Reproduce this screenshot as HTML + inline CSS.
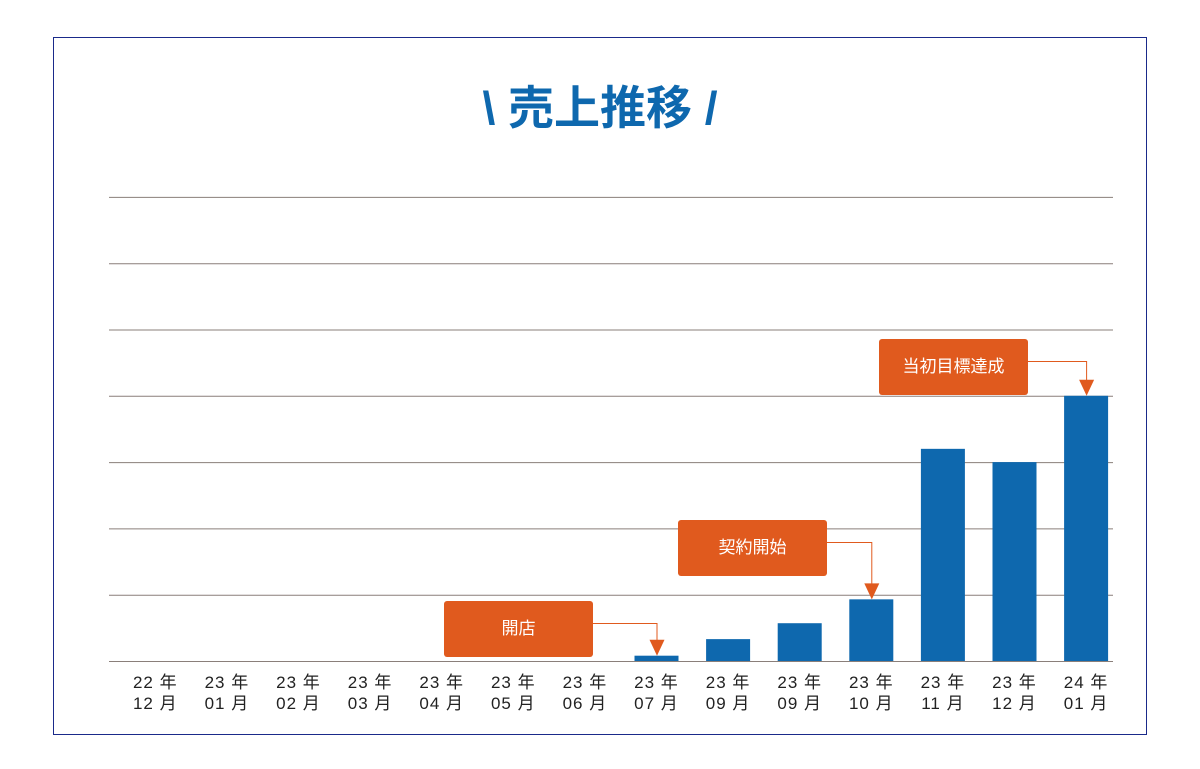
<!DOCTYPE html>
<html><head><meta charset="utf-8"><style>
body{margin:0;background:#fff;width:1200px;height:764px;overflow:hidden}
svg text{font-family:"Liberation Sans","Noto Sans CJK JP",sans-serif}
</style></head><body>
<svg width="1200" height="764">
<rect x="53.5" y="37.5" width="1093" height="697" fill="#fff" stroke="#1a2a8a" stroke-width="1"/>
<text x="600" y="124" text-anchor="middle" font-size="46" font-weight="bold" fill="#0e68ae">\ 売上推移 /</text>
<g id="grid"></g><g id="bars"></g><g id="labels"></g><g id="callouts"></g>
</svg>
<script>
const categories=[["22 年","12 月"],["23 年","01 月"],["23 年","02 月"],["23 年","03 月"],["23 年","04 月"],["23 年","05 月"],["23 年","06 月"],["23 年","07 月"],["23 年","09 月"],["23 年","09 月"],["23 年","10 月"],["23 年","11 月"],["23 年","12 月"],["24 年","01 月"]];
const values=[0,0,0,0,0,0,0,0.08,0.33,0.57,0.93,3.2,3.0,4.0];
const gridTicks=[0,1,2,3,4,5,6,7];
const callouts=[{idx:7,text:"開店"},{idx:10,text:"契約開始"},{idx:13,text:"当初目標達成"}];
const calloutBoxes=[[444,601],[678,520],[879,339]];
const NS="http://www.w3.org/2000/svg";
const x0=119.5,step=71.6,base=661,unit=66.3,bw=44;
const xc=i=>x0+step*i+step/2, y=v=>base-v*unit;
function mk(t,a,p){const e=document.createElementNS(NS,t);for(const k in a)e.setAttribute(k,a[k]);p.appendChild(e);return e;}
const G=document.getElementById('grid'),B=document.getElementById('bars'),L=document.getElementById('labels'),C=document.getElementById('callouts');
gridTicks.forEach(t=>{const l=mk('line',{x1:109,x2:1113,y1:y(t)+0.5,y2:y(t)+0.5,stroke:'#8a7f7a','stroke-width':1},G);

});
values.forEach((v,i)=>{if(v>0){const r=mk('rect',{x:xc(i)-bw/2,y:y(v),width:bw,height:v*unit,fill:'#0e68ae'},B);

}
categories[i].forEach((s,j)=>{const t=mk('text',{x:xc(i),y:688+j*21,'text-anchor':'middle','font-size':17,fill:'#222','letter-spacing':'1'},L);t.textContent=s;

});});
callouts.forEach((c,k)=>{const [bx,by]=calloutBoxes[k];const g=mk('g',{},C);


mk('rect',{x:bx,y:by,width:149,height:56,rx:3,fill:'#e05a1e'},g);
const t=mk('text',{x:bx+74.5,y:by+33,'text-anchor':'middle','font-size':17,fill:'#fff'},g);t.textContent=c.text;
const ax=xc(c.idx),ly=by+22,ty=y(values[c.idx]);
mk('polyline',{points:`${bx+149},${ly+0.5} ${ax+0.5},${ly+0.5} ${ax+0.5},${ty-14}`,fill:'none',stroke:'#e05a1e','stroke-width':1},g);
mk('polygon',{points:`${ax-7},${ty-16} ${ax+8},${ty-16} ${ax+0.5},${ty}`,fill:'#e05a1e'},g);});
</script>
</body></html>
